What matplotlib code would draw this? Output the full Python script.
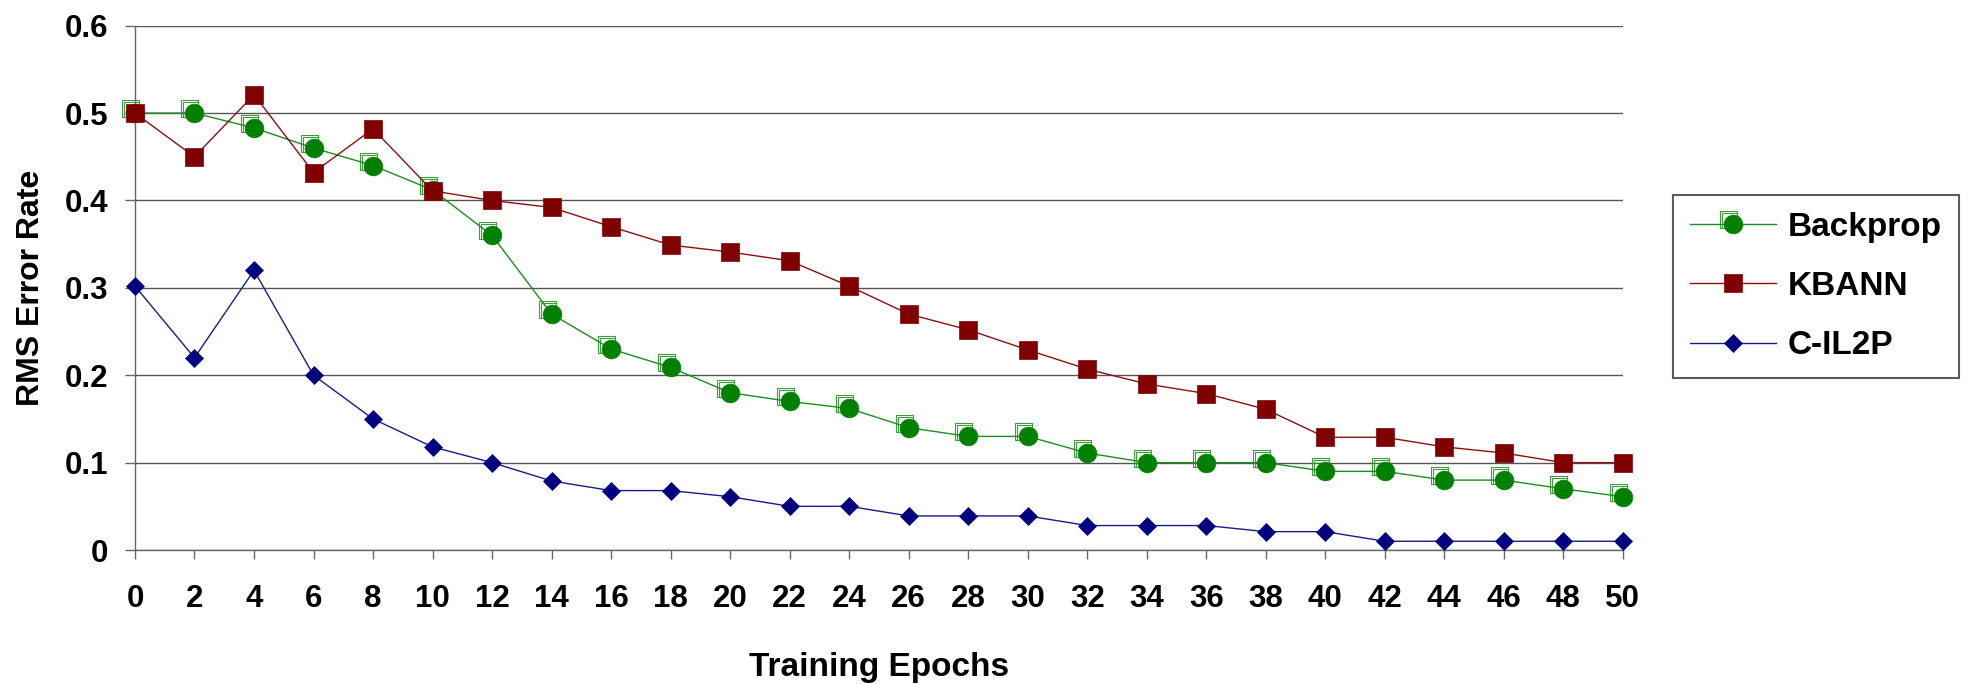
import numpy as np
import matplotlib
matplotlib.use("Agg")
import matplotlib.pyplot as plt
from matplotlib.path import Path
from matplotlib.legend_handler import HandlerTuple

plt.rcParams['font.family'] = ['Liberation Sans', 'DejaVu Sans']
plt.rcParams['font.weight'] = 'bold'

epochs = list(range(0, 51, 2))
backprop = [0.50, 0.50, 0.483, 0.46, 0.44, 0.412, 0.36, 0.27, 0.23, 0.209,
            0.18, 0.17, 0.162, 0.14, 0.13, 0.13, 0.111, 0.10, 0.10, 0.10,
            0.09, 0.09, 0.08, 0.08, 0.07, 0.061]
kbann = [0.50, 0.45, 0.521, 0.432, 0.482, 0.411, 0.40, 0.392, 0.37, 0.349,
         0.341, 0.331, 0.302, 0.27, 0.252, 0.229, 0.207, 0.19, 0.179, 0.161,
         0.129, 0.129, 0.118, 0.111, 0.10, 0.10]
cil2p = [0.302, 0.22, 0.32, 0.20, 0.15, 0.118, 0.10, 0.079, 0.068, 0.068,
         0.061, 0.05, 0.05, 0.039, 0.039, 0.039, 0.028, 0.028, 0.028, 0.021,
         0.021, 0.01, 0.01, 0.01, 0.01, 0.01]
series_names = ["Backprop", "KBANN", "C-IL2P"]
y_ticks = [0, 0.1, 0.2, 0.3, 0.4, 0.5, 0.6]
y_ticklabels = ["0", "0.1", "0.2", "0.3", "0.4", "0.5", "0.6"]

# hollow double square sitting up-left of the centre (Backprop's shadow marker)
def _square(cx, cy, s):
    h = s / 2
    return [(cx - h, cy - h), (cx + h, cy - h), (cx + h, cy + h), (cx - h, cy + h), (cx - h, cy - h)]

sq_verts = _square(-0.25, 0.25, 1.0) + _square(-0.19, 0.19, 0.9)
sq_codes = ([Path.MOVETO] + [Path.LINETO] * 3 + [Path.CLOSEPOLY]) * 2
shadow_square = Path(sq_verts, sq_codes)

fig = plt.figure(figsize=(19.76, 6.84), dpi=100)
ax = fig.add_axes([0.0683, 0.1959, 0.8213 - 0.0683, 0.9624 - 0.1959])

green = "#008000"
maroon = "#800000"
navy = "#000080"

bp_sq, = ax.plot(epochs, backprop, linestyle="none", marker=shadow_square, markersize=18.5,
                 markerfacecolor="none", markeredgecolor="#3c9e3c", markeredgewidth=0.8,
                 clip_on=False, zorder=3)
bp_line, = ax.plot(epochs, backprop, color="#1e8c1e", lw=1.0, marker="o", markersize=13.5,
                   markerfacecolor=green, markeredgecolor=green, markeredgewidth=0.5,
                   clip_on=False, zorder=4)
kb_line, = ax.plot(epochs, kbann, color="#8b1010", lw=1.0, marker="s", markersize=13.5,
                   markerfacecolor=maroon, markeredgecolor=maroon, markeredgewidth=0.5,
                   clip_on=False, zorder=5)
cp_line, = ax.plot(epochs, cil2p, color="#1a1a8c", lw=1.0, marker="D", markersize=9.5,
                   markerfacecolor=navy, markeredgecolor=navy, markeredgewidth=0.5,
                   clip_on=False, zorder=6)

ax.set_xlim(0, 50)
ax.set_ylim(0, 0.6)
ax.set_xticks(epochs)
ax.set_xticklabels([str(e) for e in epochs])
ax.set_yticks(y_ticks)
ax.set_yticklabels(y_ticklabels)
ax.yaxis.grid(True, color="#555555", lw=1.0)
ax.set_axisbelow(True)

for side in ("top", "right"):
    ax.spines[side].set_visible(False)
for side in ("left", "bottom"):
    ax.spines[side].set_color("#666666")
    ax.spines[side].set_linewidth(1.0)

ax.tick_params(axis="x", length=6.5, width=1.0, color="#666666", pad=18,
               labelsize=22.5)
ax.tick_params(axis="y", length=7, width=1.0, color="#666666", pad=12,
               labelsize=22.5)
for lbl in ax.get_xticklabels() + ax.get_yticklabels():
    lbl.set_fontweight("bold")

ax.set_xlabel("Training Epochs", fontsize=24, fontweight="bold", labelpad=27)
ax.set_ylabel("RMS Error Rate", fontsize=23, fontweight="bold", labelpad=14)

leg = fig.legend([(bp_sq, bp_line), kb_line, cp_line], series_names,
                 handler_map={tuple: HandlerTuple(ndivide=1)},
                 loc="upper left", bbox_to_anchor=(1673 / 1976, 1 - 195 / 684),
                 borderaxespad=0, fancybox=False, frameon=True,
                 prop={"size": 24, "weight": "bold"},
                 handlelength=2.6, handletextpad=0.35, labelspacing=0.85,
                 borderpad=0.5)
leg.get_frame().set_edgecolor("#333333")
leg.get_frame().set_linewidth(1.5)

fig.savefig("out.png", dpi=100, facecolor="white")
